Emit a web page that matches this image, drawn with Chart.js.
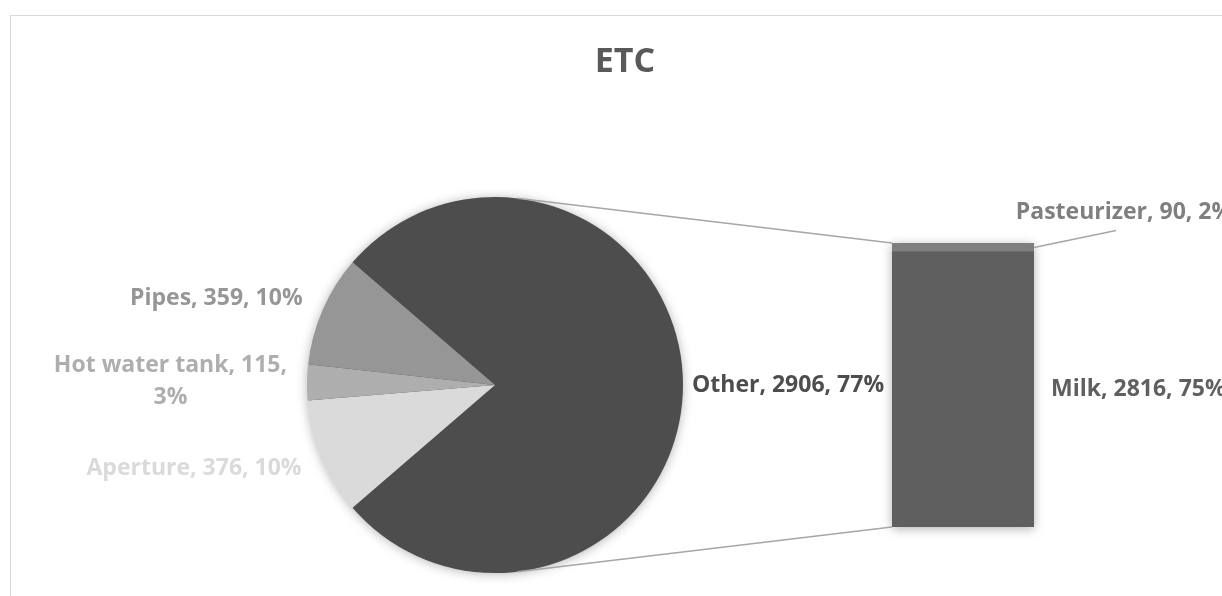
<!DOCTYPE html>
<html>
<head>
<meta charset="utf-8">
<title>ETC</title>
<script src="https://cdn.jsdelivr.net/npm/chart.js@4.4.1/dist/chart.umd.min.js"></script>
<style>
  html, body { margin: 0; padding: 0; background: #fff; overflow: hidden; }
  #wrap { position: relative; width: 1222px; height: 596px; overflow: hidden; }
  #frame { position: absolute; left: 10px; top: 15px; width: 1230px; height: 640px; border: 1px solid #d9d9d9; box-sizing: border-box; }
  canvas { position: absolute; left: 0; top: 0; }
</style>
</head>
<body>
<div id="wrap">
  <div id="frame"></div>
  <canvas id="pieChart" width="1222" height="596"></canvas>
  <canvas id="barChart" width="1222" height="596"></canvas>
</div>
<script>
const chartTitle = 'ETC';

// main pie (Other is split out into the bar on the right)
const pieLabels = ['Other', 'Aperture', 'Hot water tank', 'Pipes'];
const pieValues = [2906, 376, 115, 359];
const pieColors = ['#4d4d4d', '#dadada', '#aeaeae', '#969696'];

// breakdown of "Other"
const barLabels = ['Milk', 'Pasteurizer'];
const barValues = [2816, 90];
const barColors = ['#5f5f5f', '#7f7f7f'];

const total = pieValues.reduce((a, b) => a + b, 0);
const otherShare = pieValues[0] / total;

const FONT = '"Open Sans", "DejaVu Sans", sans-serif';
const labelFont = 'bold 23px ' + FONT;
const lineGap = 32;

function labelText(name, v) {
    return name + ', ' + v + ', ' + Math.round(v / total * 100) + '%';
}

// break at the last comma when the label is too wide
function wrapLabel(ctx, text, maxW) {
    if (ctx.measureText(text).width <= maxW) return [text];
    const cut = text.lastIndexOf(', ');
    return [text.slice(0, cut + 1), text.slice(cut + 2)];
}

const pieDecor = {
    id: 'pieDecor',
    beforeDatasetsDraw(chart) {
        const arc = chart.getDatasetMeta(0).data[0];
        const ctx = chart.ctx;
        ctx.save();
        ctx.shadowColor = 'rgba(0,0,0,0.35)';
        ctx.shadowBlur = 12;
        ctx.shadowOffsetY = 1;
        ctx.fillStyle = pieColors[0];
        ctx.beginPath();
        ctx.arc(arc.x, arc.y, arc.outerRadius - 1, 0, Math.PI * 2);
        ctx.fill();
        ctx.restore();
    },
    afterDatasetsDraw(chart) {
        const ctx = chart.ctx;
        ctx.save();
        ctx.font = labelFont;
        ctx.textBaseline = 'middle';
        chart.getDatasetMeta(0).data.forEach((arc, i) => {
            const p = arc.getProps(['x', 'y', 'startAngle', 'endAngle', 'outerRadius'], true);
            const mid = (p.startAngle + p.endAngle) / 2;
            const c = Math.cos(mid), s = Math.sin(mid);
            const lines = wrapLabel(ctx, labelText(pieLabels[i], pieValues[i]), 250);
            const blockW = Math.max(...lines.map(l => ctx.measureText(l).width));
            const onLeft = c < 0;
            const edge = p.x + c * p.outerRadius + (onLeft ? -20 : 9);
            const cx = onLeft ? edge - blockW / 2 : edge + blockW / 2;
            const cy = p.y + s * (p.outerRadius + 28);
            ctx.fillStyle = pieColors[i];
            ctx.textAlign = 'center';
            lines.forEach((l, k) => {
                ctx.fillText(l, cx, cy + (k - (lines.length - 1) / 2) * lineGap);
            });
        });
        ctx.restore();
    },
    afterDraw(chart) {
        const frame = document.getElementById('frame');
        const ctx = chart.ctx;
        ctx.save();
        ctx.font = 'bold 34px ' + FONT;
        ctx.fillStyle = '#595959';
        ctx.textAlign = 'center';
        ctx.textBaseline = 'middle';
        ctx.fillText(chartTitle, frame.offsetLeft + frame.offsetWidth / 2, 62);
        ctx.restore();
    }
};

const pieChart = new Chart(document.getElementById('pieChart'), {
    type: 'pie',
    data: {
        labels: pieLabels,
        datasets: [{
            data: pieValues,
            backgroundColor: pieColors,
            borderWidth: 0
        }]
    },
    options: {
        responsive: false,
        animation: false,
        events: [],
        rotation: 90 - otherShare * 180,
        layout: { padding: { left: 307, right: 539, top: 197, bottom: 23 } },
        plugins: { legend: { display: false }, tooltip: { enabled: false } }
    },
    plugins: [pieDecor]
});

// tangent point on the pie for a line coming from (px, py)
function tangent(cx, cy, r, px, py, upper) {
    const d = Math.hypot(px - cx, py - cy);
    const base = Math.atan2(py - cy, px - cx);
    const off = Math.acos(r / d);
    const a = upper ? base - off : base + off;
    return [cx + r * Math.cos(a), cy + r * Math.sin(a)];
}

const barDecor = {
    id: 'barDecor',
    beforeDatasetsDraw(chart) {
        const low = chart.getDatasetMeta(0).data[0];
        const high = chart.getDatasetMeta(1).data[0];
        const ctx = chart.ctx;
        ctx.save();
        ctx.shadowColor = 'rgba(0,0,0,0.3)';
        ctx.shadowBlur = 10;
        ctx.shadowOffsetY = 2;
        ctx.fillStyle = barColors[0];
        ctx.fillRect(low.x - low.width / 2, high.y, low.width, low.base - high.y);
        ctx.restore();
    },
    afterDatasetsDraw(chart) {
        const low = chart.getDatasetMeta(0).data[0];
        const high = chart.getDatasetMeta(1).data[0];
        const left = low.x - low.width / 2, right = low.x + low.width / 2;
        const top = high.y, bottom = low.base;
        const pie = pieChart.getDatasetMeta(0).data[0];
        const ctx = chart.ctx;
        ctx.save();

        // connector lines from the pie to the bar
        ctx.strokeStyle = '#a6a6a6';
        ctx.lineWidth = 1.5;
        const t1 = tangent(pie.x, pie.y, pie.outerRadius, left, top, true);
        const t2 = tangent(pie.x, pie.y, pie.outerRadius, left, bottom, false);
        ctx.beginPath();
        ctx.moveTo(t1[0], t1[1]);
        ctx.lineTo(left, top);
        ctx.moveTo(t2[0], t2[1]);
        ctx.lineTo(left, bottom);
        ctx.stroke();

        ctx.font = labelFont;
        ctx.textBaseline = 'middle';

        // Milk
        ctx.fillStyle = barColors[0];
        ctx.textAlign = 'left';
        ctx.fillText(labelText(barLabels[0], barValues[0]), right + 17, (low.y + low.base) / 2);

        // Pasteurizer with leader line
        const my = (high.y + high.base) / 2;
        const ex = right + 82, ey = my - 17;
        ctx.beginPath();
        ctx.moveTo(right, my);
        ctx.lineTo(ex, ey);
        ctx.stroke();
        ctx.fillStyle = barColors[1];
        ctx.textAlign = 'center';
        ctx.fillText(labelText(barLabels[1], barValues[1]), ex + 8, ey - 18);
        ctx.restore();
    }
};

new Chart(document.getElementById('barChart'), {
    type: 'bar',
    data: {
        labels: ['Other'],
        datasets: barLabels.map((name, i) => ({
            label: name,
            data: [barValues[i]],
            backgroundColor: barColors[i],
            borderWidth: 0,
            barPercentage: 1,
            categoryPercentage: 1
        }))
    },
    options: {
        responsive: false,
        animation: false,
        events: [],
        layout: { padding: { left: 892, right: 188, top: 243, bottom: 69 } },
        scales: {
            x: { stacked: true, display: false },
            y: { stacked: true, display: false, min: 0, max: barValues.reduce((a, b) => a + b, 0) }
        },
        plugins: { legend: { display: false }, tooltip: { enabled: false } }
    },
    plugins: [barDecor]
});
</script>
</body>
</html>
